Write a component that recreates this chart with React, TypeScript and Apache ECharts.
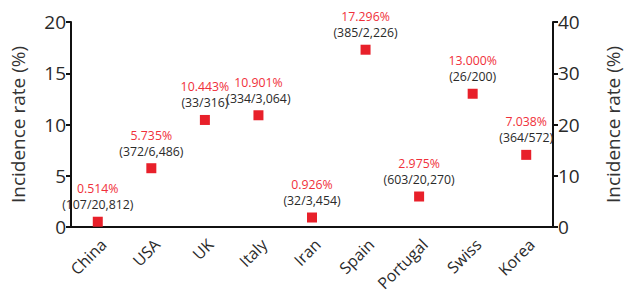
import React, { useEffect, useRef } from "react";
import * as echarts from "echarts";

const countries = ["China", "USA", "UK", "Italy", "Iran", "Spain", "Portugal", "Swiss", "Korea"];
const rates = [0.514, 5.735, 10.443, 10.901, 0.926, 17.296, 2.975, 13.0, 7.038];
const rateLabels = ["0.514%", "5.735%", "10.443%", "10.901%", "0.926%", "17.296%", "2.975%", "13.000%", "7.038%"];
const countLabels = ["(107/20,812)", "(372/6,486)", "(33/316)", "(334/3,064)", "(32/3,454)", "(385/2,226)", "(603/20,270)", "(26/200)", "(364/572)"];

const FONT = "'Open Sans', 'DejaVu Sans', sans-serif";

export default function App() {
  const ref = useRef<HTMLDivElement>(null);
  useEffect(() => {
    if (!ref.current) return;
    const chart = echarts.init(ref.current, undefined, { renderer: "svg" });
    const axisCommon = {
      type: "value" as const,
      nameLocation: "middle" as const,
      nameTextStyle: { fontSize: 19, color: "#333", fontFamily: FONT },
      axisLine: { show: true, lineStyle: { color: "#111", width: 2 } },
      axisTick: { show: true, length: 5, lineStyle: { color: "#111", width: 2 } },
      axisLabel: { fontSize: 19, color: "#2a2a2a", fontFamily: FONT, margin: 5 },
      splitLine: { show: false },
    };
    chart.setOption({
      animation: false,
      textStyle: { fontFamily: FONT },
      grid: { left: 67, right: 60, top: 22, bottom: 71 },
      xAxis: {
        type: "category",
        data: countries,
        boundaryGap: true,
        axisLine: { lineStyle: { color: "#111", width: 2 } },
        axisTick: { alignWithLabel: true, length: 5, lineStyle: { color: "#111", width: 2 } },
        axisLabel: {
          rotate: 45,
          fontSize: 16,
          color: "#2a2a2a",
          fontFamily: FONT,
          margin: 9,
          verticalAlign: "top",
          interval: 0,
        },
      },
      yAxis: [
        { ...axisCommon, name: "Incidence rate (%)", nameGap: 44, min: 0, max: 20, interval: 5 },
        { ...axisCommon, name: "Incidence rate (%)", nameGap: 50, min: 0, max: 40, interval: 10, position: "right" },
      ],
      series: [
        {
          type: "scatter",
          yAxisIndex: 0,
          symbol: "rect",
          symbolSize: 10,
          itemStyle: { color: "#e8202a", opacity: 1 },
          data: rates.map((v, i) => ({
            value: v,
            label: {
              formatter: `{a|${rateLabels[i]}}\n{b|${countLabels[i]}}`,
            },
          })),
          label: {
            show: true,
            position: "top",
            distance: 4,
            rich: {
              a: { color: "#f0303a", fontSize: 12.3, fontFamily: FONT, lineHeight: 16 },
              b: { color: "#2a2a2a", fontSize: 12.3, fontFamily: FONT, lineHeight: 16 },
            },
          },
        },
      ],
    });
    return () => chart.dispose();
  }, []);
  return <div ref={ref} style={{ width: 630, height: 298, position: "absolute", left: 0, top: 0 }} />;
}
